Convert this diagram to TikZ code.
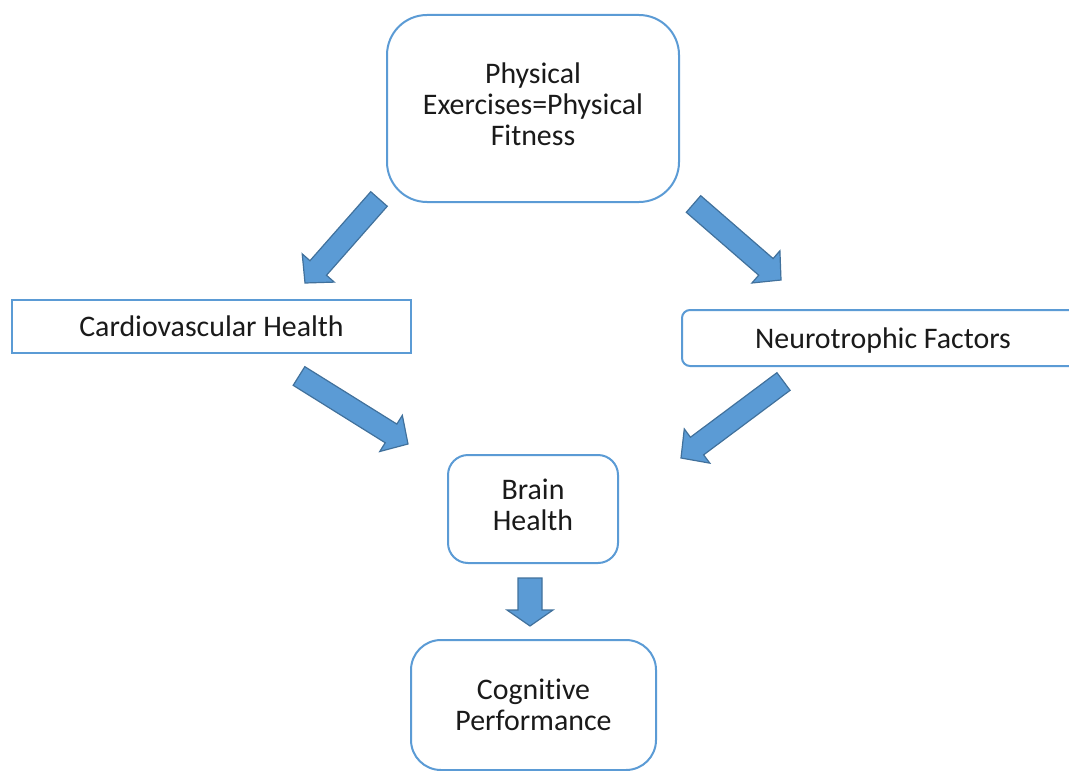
\documentclass[tikz,border=0pt]{standalone}
\usepackage{fontspec}
\setmainfont{Carlito}[Ligatures=NoCommon]
\usetikzlibrary{calc}
\definecolor{boxblue}{HTML}{5B9BD5}
\definecolor{arrfill}{HTML}{5B9BD5}
\definecolor{arrdraw}{HTML}{41719C}
\definecolor{txt}{HTML}{1A1A1A}
\newcommand\blockarr[5]{%
  \draw[blockarrow]
    ($(#1)!#3!90:(#2)$) --
    ($(#2)!#5!(#1)!#3!-90:(#1)$) --
    ($(#2)!#5!(#1)!#4!-90:(#1)$) --
    (#2) --
    ($(#2)!#5!(#1)!#4!90:(#1)$) --
    ($(#2)!#5!(#1)!#3!90:(#1)$) --
    ($(#1)!#3!-90:(#2)$) -- cycle;}
\begin{document}
\begin{tikzpicture}[x=0.75pt,y=-0.75pt,
  box/.style={draw=boxblue, line width=1.5pt, fill=white, inner sep=0pt,
    align=center, text=txt, font=\fontsize{22.4}{23.25}\selectfont},
  blockarrow/.style={fill=arrfill, draw=arrdraw, line width=0.9pt, line join=miter}]
\useasboundingbox (0,0) rectangle (1069,770);
\clip (0,0) rectangle (1069,770);
\node[box, minimum width=219pt, minimum height=140.25pt, rounded corners=30pt, text depth=6.5pt] (pe) at (533,108.5)
  {Physical\\Exercises=Physical\\Fitness};
\node[box, minimum width=299.25pt, minimum height=39.75pt, text depth=1pt] (cv) at (211.5,326.5) {Cardiovascular Health};
\node[box, minimum width=301.5pt, minimum height=42pt, rounded corners=6pt, text depth=0pt] (nf) at (883,338) {Neurotrophic Factors};
\node[box, minimum width=127.5pt, minimum height=81pt, rounded corners=15pt, text depth=6.5pt] (bh) at (533,509) {Brain\\Health};
\node[box, minimum width=183.75pt, minimum height=97.5pt, rounded corners=22.5pt] (cp) at (533.5,705) {Cognitive\\Performance};
% arrow end points
\coordinate (a1s) at (379,199);   \coordinate (a1e) at (305,283);
\coordinate (a2s) at (693.5,204); \coordinate (a2e) at (781,280);
\coordinate (a3s) at (299,376);   \coordinate (a3e) at (408,444);
\coordinate (a4s) at (783.5,381.5); \coordinate (a4e) at (681,458);
\coordinate (a5s) at (530,578);   \coordinate (a5e) at (530,626);
\blockarr{a1s}{a1e}{8.25pt}{16pt}{15pt}
\blockarr{a2s}{a2e}{8.25pt}{16pt}{15pt}
\blockarr{a3s}{a3e}{8.25pt}{16pt}{15pt}
\blockarr{a4s}{a4e}{8.25pt}{16pt}{15pt}
\blockarr{a5s}{a5e}{9pt}{17.25pt}{12pt}
\end{tikzpicture}
\end{document}
